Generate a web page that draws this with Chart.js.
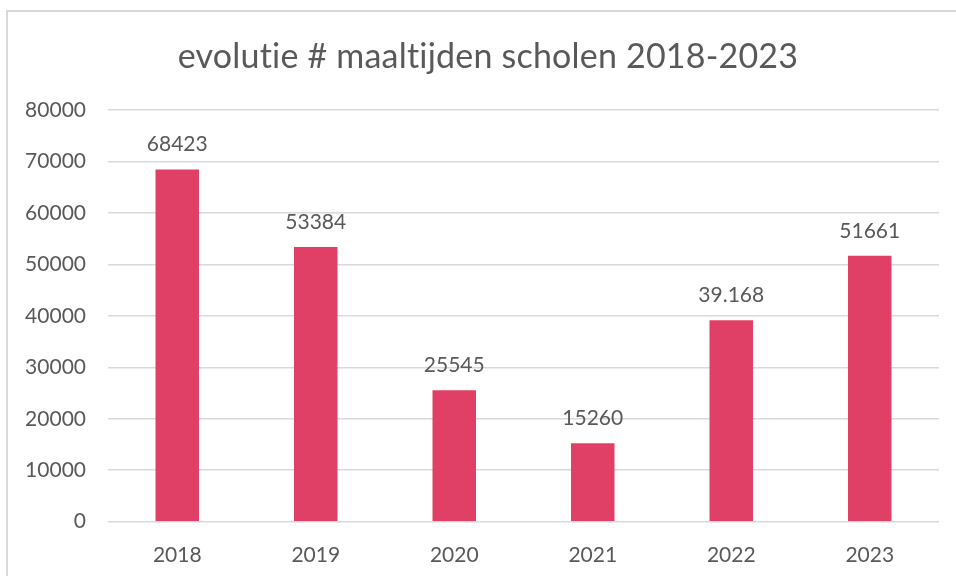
<!DOCTYPE html>
<html>
<head>
<meta charset="utf-8">
<script src="https://cdn.jsdelivr.net/npm/chart.js@4/dist/chart.umd.min.js"></script>
<style>
  html, body { margin: 0; padding: 0; background: #fff; }
  #wrap { width: 956px; height: 576px; position: relative; }
</style>
</head>
<body>
<div id="wrap"><canvas id="meals-chart" width="956" height="576"></canvas></div>
<script>
// data
const years = ["2018", "2019", "2020", "2021", "2022", "2023"];
const meals = [68423, 53384, 25545, 15260, 39168, 51661];
// labels as written in the original (2022 uses a thousands dot)
const mealLabels = ["68423", "53384", "25545", "15260", "39.168", "51661"];
const yTicks = [0, 10000, 20000, 30000, 40000, 50000, 60000, 70000, 80000];
const chartTitle = "evolutie # maaltijden scholen 2018-2023";

const textColor = "#595959";
const gridColor = "#d9d9d9";
const fontFamily = "Lato, 'Open Sans', sans-serif";

// light frame round the chart + title centred on the whole frame
const framePlugin = {
  id: "frame",
  beforeDraw(chart) {
    const ctx = chart.ctx;
    ctx.save();
    ctx.strokeStyle = gridColor;
    ctx.lineWidth = 2;
    ctx.strokeRect(7, 11, 1000, 700);
    ctx.fillStyle = textColor;
    ctx.font = "34px " + fontFamily;
    ctx.textAlign = "center";
    ctx.textBaseline = "middle";
    // tiny spacing switches off the "ti" ligature of Lato
    if ("letterSpacing" in ctx) ctx.letterSpacing = "0.2px";
    ctx.fillText(chartTitle, 488, 57);
    ctx.restore();
  }
};

// value labels above each bar
const barLabelPlugin = {
  id: "barLabels",
  afterDatasetsDraw(chart) {
    const ctx = chart.ctx;
    const meta = chart.getDatasetMeta(0);
    ctx.save();
    ctx.fillStyle = textColor;
    ctx.font = "21px " + fontFamily;
    ctx.textAlign = "center";
    ctx.textBaseline = "middle";
    meta.data.forEach((bar, i) => {
      ctx.fillText(mealLabels[i], bar.x, bar.y - 25);
    });
    ctx.restore();
  }
};

const ctx = document.getElementById("meals-chart").getContext("2d");

new Chart(ctx, {
  type: "bar",
  data: {
    labels: years,
    datasets: [{
      label: "maaltijden",
      data: meals,
      backgroundColor: "#e04066",
      categoryPercentage: 1,
      barPercentage: 0.314
    }]
  },
  options: {
    responsive: false,
    animation: false,
    layout: { padding: { left: 0, right: 17, top: 110, bottom: 0 } },
    plugins: {
      legend: { display: false },
      tooltip: { enabled: false },
      title: { display: false }
    },
    scales: {
      x: {
        grid: { display: false, drawTicks: false },
        border: { display: false },
        ticks: {
          color: textColor,
          font: { family: fontFamily, size: 21 },
          padding: 21,
          maxRotation: 0
        },
        afterFit(scale) { scale.height = 54.3; }
      },
      y: {
        min: 0,
        max: 80000,
        afterBuildTicks(scale) {
          scale.ticks = yTicks.map(v => ({ value: v }));
        },
        grid: { color: gridColor, lineWidth: 1.5, drawTicks: false },
        border: { display: false },
        ticks: {
          color: textColor,
          font: { family: fontFamily, size: 21 },
          padding: 22,
          callback: (value) => String(value)
        },
        afterFit(scale) { scale.width = 108; }
      }
    }
  },
  plugins: [framePlugin, barLabelPlugin]
});
</script>
</body>
</html>
